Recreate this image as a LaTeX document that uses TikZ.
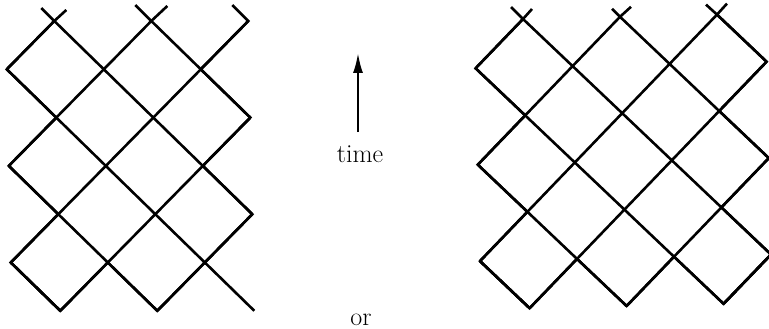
\documentclass[tikz,border=0pt]{standalone}
\usetikzlibrary{arrows.meta,calc}
\begin{document}
\begin{tikzpicture}[x=1pt,y=-1pt,
  wl/.style={line width=2.6pt,line join=miter,line cap=butt},
  timearrow/.style={line width=2.2pt,-{Latex[length=20pt,width=10pt]}},
  lbl/.style={inner sep=0pt,font=\fontsize{26}{30}\selectfont}]
\useasboundingbox (0,0) rectangle (769,329);
% lattice vertices
\foreach \c in {0,...,6}{
  \foreach \r in {0,...,6}{
    \coordinate (L-\c-\r) at ({5.8+48.5*\c+1.0*\r},{21+48.3*\r});
    \coordinate (R-\c-\r) at ({474.5+48.5*\c+1.1*\r},{20.1-1.1*\c+48.2*\r});
  }
}
% left lattice: down-right lines
\draw[wl] (L-3-0) -- (L-4-1) -- (L-5-2);
\draw[wl] (L-1-0) -- (L-2-1) -- (L-3-2) -- (L-4-3) -- (L-5-4);
\draw[wl] (L-0-1) -- (L-1-2) -- (L-2-3) -- (L-3-4) -- (L-4-5) -- (L-5-6);
\draw[wl] (L-0-3) -- (L-1-4) -- (L-2-5) -- (L-3-6);
\draw[wl] (L-0-5) -- (L-1-6);
% left lattice: up-right lines
\draw[wl] (L-0-1) -- (L-1-0);
\draw[wl] (L-0-3) -- (L-1-2) -- (L-2-1) -- (L-3-0);
\draw[wl] (L-0-5) -- (L-1-4) -- (L-2-3) -- (L-3-2) -- (L-4-1) -- (L-5-0);
\draw[wl] (L-1-6) -- (L-2-5) -- (L-3-4) -- (L-4-3) -- (L-5-2);
\draw[wl] (L-3-6) -- (L-4-5) -- (L-5-4);
% left lattice: corners (reflections)
\draw[wl] (L-1-0) -- (L-0-1) -- (L-1-2);
\draw[wl] (L-1-2) -- (L-0-3) -- (L-1-4);
\draw[wl] (L-1-4) -- (L-0-5) -- (L-1-6);
\draw[wl] (L-0-5) -- (L-1-6) -- (L-2-5);
\draw[wl] (L-2-5) -- (L-3-6) -- (L-4-5);
\draw[wl] (L-4-1) -- (L-5-2) -- (L-4-3);
\draw[wl] (L-4-3) -- (L-5-4) -- (L-4-5);
% left lattice: top stubs
\coordinate (LsA) at ($(L-1-0)+(-13,-13)$);
\coordinate (LsB) at ($(L-1-0)+(12,-11)$);
\coordinate (LsC) at ($(L-3-0)+(-16,-16)$);
\coordinate (LsD) at ($(L-3-0)+(16,-15)$);
\coordinate (LsE) at ($(L-5-0)+(-16,-16)$);
\draw[wl] (LsA) -- (L-1-0);
\draw[wl] (LsB) -- (L-1-0);
\draw[wl] (LsC) -- (L-3-0);
\draw[wl] (LsD) -- (L-3-0);
\draw[wl] (LsE) -- (L-5-0) -- (L-4-1);
% right lattice: down-right lines
\draw[wl] (R-5-0) -- (R-6-1);
\draw[wl] (R-3-0) -- (R-4-1) -- (R-5-2) -- (R-6-3);
\draw[wl] (R-1-0) -- (R-2-1) -- (R-3-2) -- (R-4-3) -- (R-5-4) -- (R-6-5);
\draw[wl] (R-0-1) -- (R-1-2) -- (R-2-3) -- (R-3-4) -- (R-4-5) -- (R-5-6);
\draw[wl] (R-0-3) -- (R-1-4) -- (R-2-5) -- (R-3-6);
\draw[wl] (R-0-5) -- (R-1-6);
% right lattice: up-right lines
\draw[wl] (R-0-1) -- (R-1-0);
\draw[wl] (R-0-3) -- (R-1-2) -- (R-2-1) -- (R-3-0);
\draw[wl] (R-0-5) -- (R-1-4) -- (R-2-3) -- (R-3-2) -- (R-4-1) -- (R-5-0);
\draw[wl] (R-1-6) -- (R-2-5) -- (R-3-4) -- (R-4-3) -- (R-5-2) -- (R-6-1);
\draw[wl] (R-3-6) -- (R-4-5) -- (R-5-4) -- (R-6-3);
\draw[wl] (R-5-6) -- (R-6-5);
% right lattice: corners (reflections)
\draw[wl] (R-1-0) -- (R-0-1) -- (R-1-2);
\draw[wl] (R-1-2) -- (R-0-3) -- (R-1-4);
\draw[wl] (R-1-4) -- (R-0-5) -- (R-1-6);
\draw[wl] (R-0-5) -- (R-1-6) -- (R-2-5);
\draw[wl] (R-2-5) -- (R-3-6) -- (R-4-5);
\draw[wl] (R-4-5) -- (R-5-6) -- (R-6-5);
\draw[wl] (R-5-0) -- (R-6-1) -- (R-5-2);
\draw[wl] (R-5-2) -- (R-6-3) -- (R-5-4);
\draw[wl] (R-5-4) -- (R-6-5) -- (R-5-6);
% right lattice: top stubs
\coordinate (RsA) at ($(R-1-0)+(-12,-12)$);
\coordinate (RsB) at ($(R-1-0)+(9,-10)$);
\coordinate (RsC) at ($(R-3-0)+(-8,-8)$);
\coordinate (RsD) at ($(R-3-0)+(11,-10)$);
\coordinate (RsE) at ($(R-5-0)+(-11,-10)$);
\coordinate (RsF) at ($(R-5-0)+(10,-11)$);
\foreach \s/\v in {RsA/1,RsB/1,RsC/3,RsD/3,RsE/5,RsF/5}
  \draw[wl] (\s) -- (R-\v-0);
% time arrow and labels
\node[lbl,anchor=base] (time) at (360,162) {time};
\coordinate (arrowtip) at (358,53);
\draw[timearrow,shorten <=13pt] (time.north -| arrowtip) -- (arrowtip);
\node[lbl,anchor=base] (or) at (361,325) {or};
\end{tikzpicture}
\end{document}
